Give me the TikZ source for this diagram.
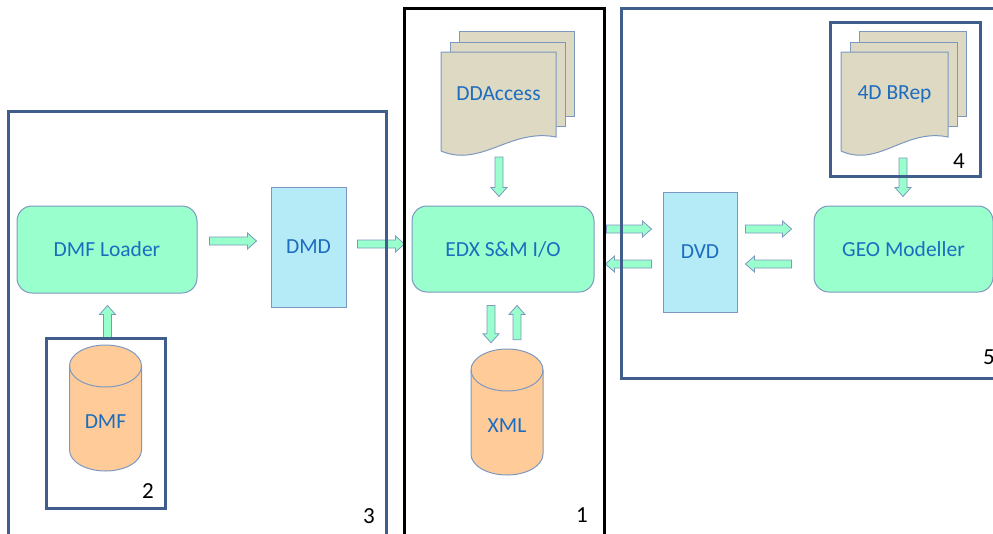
\documentclass[tikz,border=0pt]{standalone}
\usepackage{fontspec}
\setmainfont{Carlito}
\usetikzlibrary{calc}

\definecolor{mint}{HTML}{99FFCC}
\definecolor{sky}{HTML}{B4EBF7}
\definecolor{paper}{HTML}{DDD9C3}
\definecolor{peach}{HTML}{FFCC99}
\definecolor{edge}{HTML}{7D98C0}
\definecolor{frame}{HTML}{3F5E8C}
\definecolor{txt}{HTML}{1C6CC0}

\tikzset{
  every node/.style={font=\fontsize{21.5}{25}\selectfont, text=txt, inner sep=0pt},
  proc/.style={draw=edge, fill=mint, rounded corners=15pt, line width=1pt},
  store/.style={draw=edge, fill=sky, line width=1pt},
  group/.style={draw=frame, line width=3pt},
  blackgroup/.style={draw=black, line width=3pt},
  tag/.style={text=black, font=\fontsize{23}{26}\selectfont},
  flow/.style={draw=edge, fill=mint, line width=0.8pt},
  sheet/.style={draw=edge, fill=paper, line width=1pt},
}

% thick block arrow between two points
\newcommand\fatarrow[2]{%
  \path[flow] let \p1=(#1), \p2=(#2),
      \n1={atan2(\y2-\y1,\x2-\x1)}, \n2={veclen(\x2-\x1,\y2-\y1)} in
    [shift={(\p1)}, rotate=\n1]
    (0pt,-4pt) -- ({\n2*1pt-9pt},-4pt) -- ({\n2*1pt-9pt},-8pt) -- ({\n2*1pt},0pt)
    -- ({\n2*1pt-9pt},8pt) -- ({\n2*1pt-9pt},4pt) -- (0pt,4pt) -- cycle;}

% stack of three documents: name, left x, width, label
\newcommand\docstack[4]{%
  \draw[sheet] (#2+18,31) rectangle (#2+18+#3,116);
  \draw[sheet] (#2+9,42) rectangle (#2+9+#3,126);
  \draw[sheet] (#2,52) -- (#2+#3,52) -- (#2+#3,137)
    .. controls (#2+0.6*#3,128) and (#2+0.35*#3,168) .. (#2,151) -- cycle;
  \node (#1) at (#2+0.5*#3,94) {#4};}

% database cylinder: name, centre x, top y, label
\newcommand\dbcyl[4]{%
  \draw[draw=edge, fill=peach, line width=1pt] (#2-36,#3+21) -- (#2-36,#3+105)
    arc(180:0:36 and 21) -- (#2+36,#3+21) arc(0:-180:36 and 21) -- cycle;
  \draw[edge, line width=1pt] (#2-36,#3+21) arc(180:0:36 and 21);
  \node[minimum width=72pt, minimum height=126pt] (#1) at (#2,#3+63) {};
  \node (#1-text) at (#2,#3+77) {#4};}

\begin{document}
\begin{tikzpicture}[x=1pt,y=-1pt]
\useasboundingbox (0,0) rectangle (993,533);

% processing blocks and data views
\node[proc, minimum width=180pt, minimum height=87pt] (loader) at (107,249.5) {DMF Loader};
\node[store, minimum width=75pt, minimum height=120pt] (dmd) at (308.5,247) {DMD};
\node[proc, minimum width=182pt, minimum height=86pt] (edx) at (503,249) {EDX S\&M I/O};
\node[store, minimum width=74pt, minimum height=120pt] (dvd) at (700,252) {DVD};
\node[proc, minimum width=179pt, minimum height=86pt] (geo) at (903.5,249) {GEO Modeller};

% document stacks
\docstack{ddacc}{441}{115}{DDAccess}
\docstack{brep}{841}{107}{4D BRep}

% databases
\dbcyl{dmf}{105.5}{345}{DMF}
\dbcyl{xml}{507}{349}{XML}

% group outline around the DMF store, used as the start of its arrow
\path (106,423.5) node[minimum width=118pt, minimum height=169pt] (g2) {};

% data flow
\fatarrow{$(loader.east)+(12,-8.5)$}{$(dmd.west)+(-14,-6)$}
\fatarrow{$(dmd.east)+(11,-3)$}{$(edx.west)+(-7,-5)$}
\fatarrow{$(ddacc)+(0.5,63)$}{$(edx.north)+(-4,-9)$}
\fatarrow{$(edx.south)+(-12,13)$}{$(xml.north)+(-16,-6)$}
\fatarrow{$(xml.north)+(10,-9)$}{$(edx.south)+(14,13)$}
\fatarrow{$(edx.east)+(12,-20)$}{$(dvd.west)+(-11,-23)$}
\fatarrow{$(dvd.west)+(-11,12)$}{$(edx.east)+(11,15)$}
\fatarrow{$(dvd.east)+(8,-23)$}{$(geo.west)+(-22,-20)$}
\fatarrow{$(geo.west)+(-22,15)$}{$(dvd.east)+(8,12)$}
\fatarrow{$(brep)+(8.5,64)$}{$(geo.north)+(-0.5,-9)$}
\fatarrow{$(g2.north)+(1.5,-1)$}{$(loader.south)+(0.5,12)$}

% groups
\node[group, minimum width=378pt, minimum height=434pt] (g3) at (197,328) {};
\node[blackgroup, minimum width=200pt, minimum height=537pt] (g1) at (504,276.5) {};
\node[group, minimum width=384pt, minimum height=370pt] (g5) at (813,193) {};
\node[group, minimum width=150pt, minimum height=154pt] (g4) at (905,99) {};
\draw[group] (g2.south west) rectangle (g2.north east);

% group numbers
\node[tag] (n1) at (582,515) {1};
\node[tag] (n2) at (148,491) {2};
\node[tag] (n3) at (369,516) {3};
\node[tag] (n4) at (959,161) {4};
\node[tag] (n5) at (989,357) {5};
\end{tikzpicture}
\end{document}
